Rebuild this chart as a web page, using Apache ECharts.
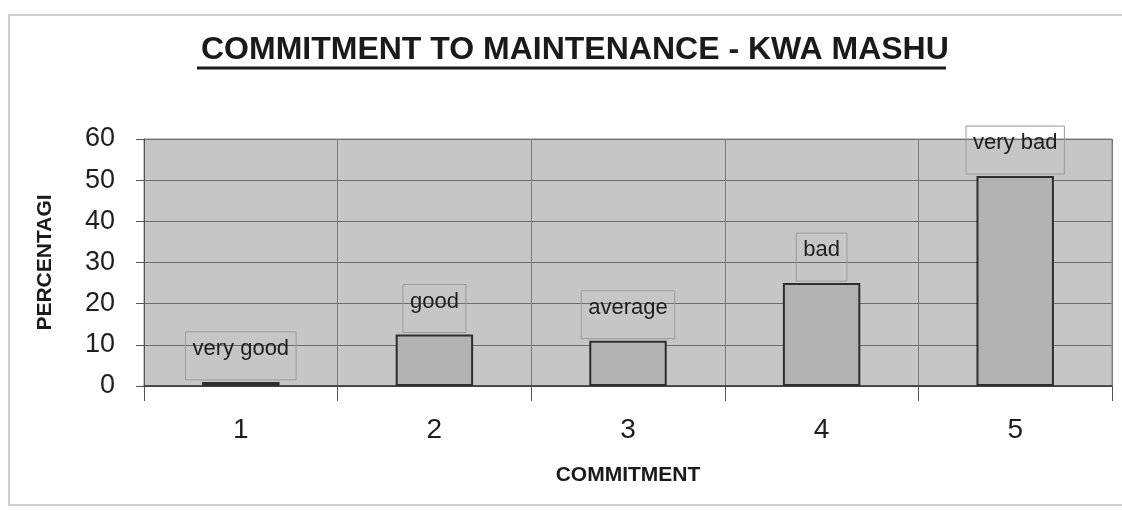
<!DOCTYPE html>
<html>
<head>
<meta charset="utf-8">
<script src="https://cdn.jsdelivr.net/npm/echarts@6/dist/echarts.min.js"></script>
<style>
  html, body { margin: 0; padding: 0; background: #fff; }
  #chart { width: 1122px; height: 523px; }
</style>
</head>
<body>
<div id="chart"></div>
<script>
// data
var categories = ['1', '2', '3', '4', '5'];
var values = [1, 12.5, 11, 25, 51];
var barNames = ['very good', 'good', 'average', 'bad', 'very bad'];

var FONT = '"Liberation Sans", Arial, sans-serif';

var chart = echarts.init(document.getElementById('chart'));

var option = {
  animation: false,
  backgroundColor: '#ffffff',
  title: {
    text: 'COMMITMENT TO MAINTENANCE - KWA MASHU',
    left: 196,
    top: 29,
    textStyle: { fontFamily: FONT, fontSize: 32, fontWeight: 'bold', color: '#1a1a1a' }
  },
  graphic: [
    // page frame
    { type: 'rect', shape: { x: 9, y: 15, width: 1200, height: 490 },
      style: { fill: 'none', stroke: '#cfcfcf', lineWidth: 2 }, silent: true },
    // title underline
    { type: 'line', shape: { x1: 197, y1: 68, x2: 946, y2: 68 },
      style: { stroke: '#1a1a1a', lineWidth: 3 }, silent: true }
  ],
  grid: {
    left: 144, right: 10, top: 139, bottom: 137,
    show: true,
    backgroundColor: '#c6c6c6',
    borderColor: '#8a8a8a',
    borderWidth: 1
  },
  xAxis: {
    type: 'category',
    data: categories,
    name: 'COMMITMENT',
    nameLocation: 'middle',
    nameGap: 79,
    nameTextStyle: { fontFamily: FONT, fontSize: 21, fontWeight: 'bold', color: '#1a1a1a' },
    axisLine: { lineStyle: { color: '#333', width: 1.5 } },
    axisTick: { show: true, length: 15, lineStyle: { color: '#555' } },
    axisLabel: { fontFamily: FONT, fontSize: 28, color: '#1e1e1e', margin: 30 },
    splitLine: { show: true, lineStyle: { color: '#7a7a7a', width: 1 } }
  },
  yAxis: {
    type: 'value',
    min: 0,
    max: 60,
    interval: 10,
    name: 'PERCENTAGI',
    nameLocation: 'middle',
    nameGap: 88,
    nameTextStyle: { fontFamily: FONT, fontSize: 21, fontWeight: 'bold', color: '#1a1a1a' },
    axisLine: { show: true, lineStyle: { color: '#555', width: 1 } },
    axisTick: { show: true, length: 8, lineStyle: { color: '#555' } },
    axisLabel: { fontFamily: FONT, fontSize: 27, color: '#1e1e1e', margin: 29 },
    splitLine: { show: true, lineStyle: { color: '#6e6e6e', width: 1 } }
  },
  series: [{
    type: 'bar',
    data: values,
    barWidth: '40%',
    itemStyle: { color: '#b3b3b3', borderColor: '#2e2e2e', borderWidth: 2 },
    label: {
      show: true,
      position: 'top',
      distance: 2,
      formatter: function (p) { return barNames[p.dataIndex]; },
      fontFamily: FONT,
      fontSize: 22,
      lineHeight: 22,
      color: '#1e1e1e',
      borderColor: '#9a9a9a',
      borderWidth: 1,
      padding: [6, 7, 20, 7]
    }
  }]
};

chart.setOption(option);
</script>
</body>
</html>
